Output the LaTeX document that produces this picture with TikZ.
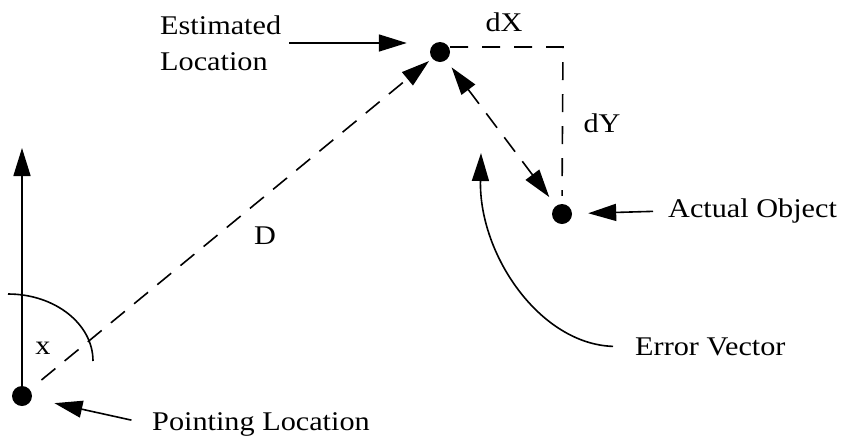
\documentclass[tikz,border=0pt]{standalone}
\usepackage{fontspec}
\setmainfont{Liberation Serif}[FakeStretch=1.12]
\usepackage{tikz}
\usetikzlibrary{arrows.meta,positioning,calc}
\tikzset{
  dotnode/.style={circle,fill=black,inner sep=0pt,minimum size=20pt},
  labeltext/.style={font=\fontsize{27}{36}\selectfont,inner sep=3pt},
  arrow/.style={-{Triangle[length=28pt,width=17pt]},line width=1.6pt},
  dasharrow/.style={arrow,dash pattern=on 18pt off 12pt},
  dblarrow/.style={{Triangle[length=28pt,width=17pt]}-{Triangle[length=28pt,width=17pt]},line width=1.6pt,dash pattern=on 18pt off 12pt},
  dimline/.style={line width=1.6pt,dash pattern=on 18pt off 14pt}
}
\begin{document}
\begin{tikzpicture}[x=1pt,y=-1pt]
  \useasboundingbox (0,0) rectangle (847,440);

  \node[dotnode] (point) at (22,396) {};
  \node[dotnode] (est) at (440,52) {};
  \node[dotnode] (actual) at (562,214) {};
  \coordinate (corner) at (563,47);
  \coordinate (axistop) at (22,148);
  \coordinate (errtip) at (481,153);

  \node[labeltext,align=left,anchor=west] (estlabel) at (157,43) {Estimated\\Location};
  \node[labeltext,anchor=west] (actlabel) at (665,211) {Actual Object};
  \node[labeltext,anchor=west] (errlabel) at (632,347) {Error Vector};
  \node[labeltext,anchor=west] (ptlabel) at (149,424) {Pointing Location};
  \node[labeltext] (dlabel) at (265,236) {D};
  \node[labeltext] (xlabel) at (43,348) {x};
  \node[labeltext] (dxlabel) at (504,22) {dX};
  \node[labeltext] (dylabel) at (602,123) {dY};

  \draw[arrow] (point) -- (axistop);
  \draw[line width=1.6pt] (8,294) arc[start angle=-90,end angle=0,x radius=85,y radius=67];
  \draw[dasharrow,shorten <=15pt,shorten >=4pt] (point) -- (est);
  \draw[dblarrow,shorten <=9pt,shorten >=11pt] (est) -- (actual);
  \draw[dimline,shorten >=8pt] (est.east |- corner) -- (corner) -- (actual.north);

  \draw[arrow,shorten <=5pt,shorten >=23pt] (estlabel.east) -- (estlabel.east -| est.west);
  \draw[arrow,shorten <=12pt,shorten >=16pt] (actlabel.west) -- (actual);
  \draw[arrow,shorten <=18pt,shorten >=23pt] (ptlabel.west) -- (point);
  \draw[arrow,shorten <=19pt] (errlabel.west) .. controls (540,344) and (479,255) .. (errtip);
\end{tikzpicture}
\end{document}
